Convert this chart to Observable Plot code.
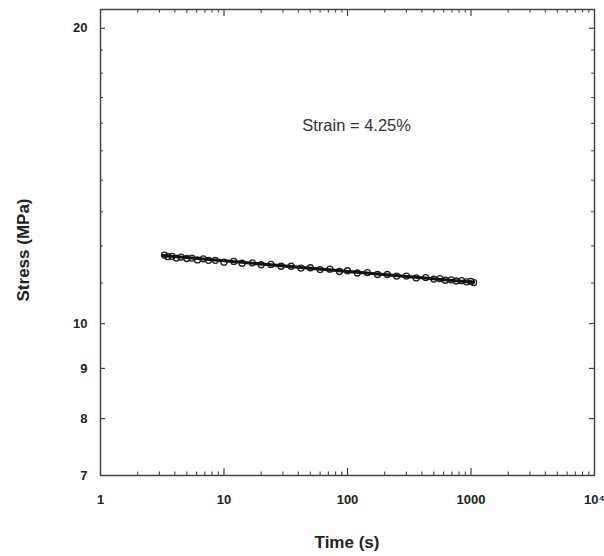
<!DOCTYPE html>
<html>
<head>
<meta charset="utf-8">
<script src="https://cdn.jsdelivr.net/npm/d3@7"></script>
<script src="https://cdn.jsdelivr.net/npm/@observablehq/plot@0.6"></script>
<style>
  html, body { margin: 0; padding: 0; background: #fff; }
  #chart { width: 604px; height: 556px; }
  svg text { font-family: "Liberation Sans", Arial, sans-serif; }
</style>
</head>
<body>
<div id="chart"></div>
<script>
const timeS = [3.3,3.5,3.8,4.1,4.5,5.0,5.5,6.1,6.8,7.5,8.5,10,12,14,17,20,24,29,35,42,50,60,72,86,100,120,145,175,210,250,300,360,430,500,560,620,690,760,840,920,1000,1050];
const stressMPa = [11.74,11.70,11.71,11.66,11.69,11.65,11.66,11.61,11.64,11.60,11.60,11.55,11.57,11.52,11.53,11.48,11.49,11.44,11.44,11.39,11.40,11.35,11.36,11.30,11.32,11.26,11.27,11.22,11.22,11.18,11.18,11.13,11.14,11.10,11.11,11.07,11.08,11.05,11.06,11.03,11.04,11.01];

// Power-law fit line end points
const fitTime = [3.2, 1050];
const fitStress = [11.73, 11.02];

// Tick values / labels
const xMajorTicks = [1, 10, 100, 1000, 10000];
const xMajorLabels = ["1", "10", "100", "1000", "10\u2074"];
const xMinorTicks = [2,3,4,5,6,7,8,9,20,30,40,50,60,70,80,90,200,300,400,500,600,700,800,900,2000,3000,4000,5000,6000,7000,8000,9000];
const yTicks = [7, 8, 9, 10, 20];
const yMinorTicks = [11,12,13,14,15,16,17,18,19];

const annotation = "Strain = 4.25%";

const points = timeS.map((t, i) => ({t, s: stressMPa[i]}));
const fit = fitTime.map((t, i) => ({t, s: fitStress[i]}));

const xDom = [1, 10000];
const yDom = [7, 20.9];

const W = 604, H = 556, mL = 100, mR = 10, mT = 9, mB = 81;
const fw = W - mL - mR, fh = H - mT - mB;
const axisColor = "#444";

const chart = Plot.plot({
  width: W,
  height: H,
  marginLeft: mL,
  marginRight: mR,
  marginTop: mT,
  marginBottom: mB,
  style: {fontFamily: "Liberation Sans, Arial, sans-serif", background: "#fff"},
  x: {type: "log", domain: xDom},
  y: {type: "log", domain: yDom},
  marks: [
    Plot.frame({stroke: axisColor, strokeWidth: 1.5}),
    // inward ticks, x (bottom/top)
    Plot.tickX(xMajorTicks.slice(1, -1), {x: d => d, insetTop: fh - 7, stroke: axisColor, strokeWidth: 1.2}),
    Plot.tickX(xMajorTicks.slice(1, -1), {x: d => d, insetBottom: fh - 7, stroke: axisColor, strokeWidth: 1.2}),
    Plot.tickX(xMinorTicks, {x: d => d, insetTop: fh - 3.5, stroke: axisColor, strokeWidth: 1.1}),
    Plot.tickX(xMinorTicks, {x: d => d, insetBottom: fh - 3.5, stroke: axisColor, strokeWidth: 1.1}),
    // inward ticks, y (left/right)
    Plot.tickY(yTicks.slice(1), {y: d => d, insetRight: fw - 5, stroke: axisColor, strokeWidth: 1.2}),
    Plot.tickY(yTicks.slice(1), {y: d => d, insetLeft: fw - 5, stroke: axisColor, strokeWidth: 1.2}),
    Plot.tickY(yMinorTicks, {y: d => d, insetRight: fw - 3, stroke: axisColor, strokeWidth: 1}),
    Plot.tickY(yMinorTicks, {y: d => d, insetLeft: fw - 3, stroke: axisColor, strokeWidth: 1}),
    // tick labels
    Plot.axisX({ticks: xMajorTicks, tickSize: 0, tickPadding: 19, tickFormat: (d) => xMajorLabels[xMajorTicks.indexOf(d)], fontSize: 13, fontWeight: "bold", label: null, fill: "#222"}),
    Plot.axisY({ticks: yTicks, tickSize: 0, tickPadding: 13, tickFormat: d => String(d), fontSize: 13, fontWeight: "bold", label: null, fill: "#222"}),
    // data
    Plot.dot(points, {x: "t", y: "s", r: 3, stroke: "#222", strokeWidth: 1.3, fill: "none"}),
    Plot.line(fit, {x: "t", y: "s", stroke: "#111", strokeWidth: 3}),
    // annotation
    Plot.text([annotation], {x: 43, y: 15.9, text: d => d, textAnchor: "start", fontSize: 16.5, fill: "#333"})
  ]
});

const svg = d3.select(chart);
svg.append("text")
  .attr("x", 347).attr("y", 548)
  .attr("text-anchor", "middle")
  .attr("font-size", 17).attr("font-weight", "bold").attr("fill", "#222")
  .text("Time (s)");
svg.append("text")
  .attr("transform", "translate(29,250) rotate(-90)")
  .attr("text-anchor", "middle")
  .attr("font-size", 17).attr("font-weight", "bold").attr("fill", "#222")
  .text("Stress (MPa)");

document.getElementById("chart").appendChild(chart);
</script>
</body>
</html>
